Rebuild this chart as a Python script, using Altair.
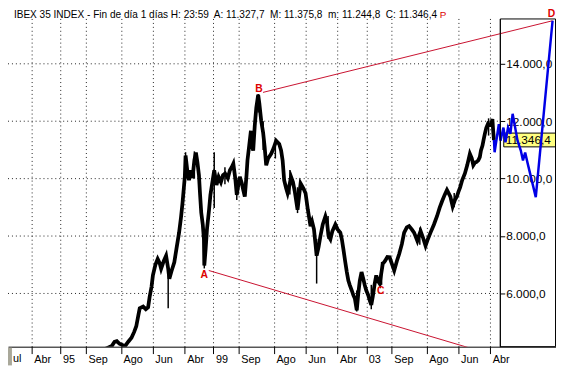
import altair as alt
import pandas as pd

# ---------------- data ----------------
# black IBEX 35 daily trace, decimal year / index value
black_years = [
    1996.125, 1996.34, 1996.41, 1996.47, 1996.54, 1996.685, 1996.77, 1996.855, 1996.925, 1996.98,
    1997.03, 1997.07, 1997.16, 1997.23, 1997.29, 1997.33, 1997.38, 1997.415, 1997.48, 1997.54,
    1997.59, 1997.63, 1997.70, 1997.76, 1997.815, 1997.846, 1997.905, 1997.975, 1998.03, 1998.10,
    1998.15, 1998.19, 1998.22, 1998.25, 1998.27, 1998.32, 1998.36, 1998.41, 1998.45, 1998.50,
    1998.54, 1998.58, 1998.62, 1998.65, 1998.68, 1998.72, 1998.75, 1998.76, 1998.795, 1998.83,
    1998.885, 1998.92, 1998.96, 1999.02, 1999.08, 1999.135, 1999.195, 1999.25, 1999.305, 1999.375,
    1999.43, 1999.48, 1999.52, 1999.57, 1999.61, 1999.65, 1999.69, 1999.74, 1999.78, 1999.82,
    1999.865, 1999.89, 1999.935, 1999.98, 2000.01, 2000.04, 2000.08, 2000.12, 2000.17, 2000.20,
    2000.25, 2000.30, 2000.34, 2000.38, 2000.43, 2000.51, 2000.57, 2000.64, 2000.72, 2000.77,
    2000.81, 2000.85, 2000.90, 2000.94, 2000.99, 2001.03, 2001.08, 2001.13, 2001.20, 2001.245,
    2001.28, 2001.35, 2001.41, 2001.47, 2001.54, 2001.58, 2001.63, 2001.67, 2001.70, 2001.75,
    2001.80, 2001.86, 2001.93, 2001.97, 2002.01, 2002.06, 2002.11, 2002.19, 2002.25, 2002.32,
    2002.36, 2002.40, 2002.445, 2002.49, 2002.53, 2002.57, 2002.62, 2002.66, 2002.70, 2002.75,
    2002.79, 2002.83, 2002.875, 2002.92, 2002.96, 2003.00, 2003.05, 2003.09, 2003.13, 2003.17,
    2003.22, 2003.26, 2003.30, 2003.35, 2003.39, 2003.43, 2003.49, 2003.55, 2003.61, 2003.67,
    2003.73, 2003.80, 2003.86, 2003.93, 2003.99, 2004.06, 2004.12, 2004.19, 2004.25, 2004.335,
    2004.38, 2004.42, 2004.48, 2004.55, 2004.61, 2004.68, 2004.77, 2004.85, 2004.92, 2004.98,
    2005.05, 2005.11, 2005.15, 2005.20, 2005.26, 2005.32, 2005.37, 2005.41, 2005.455, 2005.51,
    2005.58, 2005.64, 2005.71, 2005.76, 2005.80, 2005.85, 2005.88, 2005.93, 2005.97, 2006.00,
    2006.04, 2006.07, 2006.10, 2006.14, 2006.185, 2006.23, 2006.27, 2006.30, 2006.32, 2006.34,
]
black_values = [
    4043, 4170, 4318, 4342, 4249, 4163, 4318, 4455, 4661, 4857,
    5210, 5485, 5543, 5451, 5519, 5887, 6241, 6628, 6996, 7202,
    7065, 6859, 7133, 7315, 6859, 6515, 6790, 7089, 7545, 8119,
    8644, 9149, 9605, 10062, 10807, 10223, 9949, 10292, 10017, 10635,
    10910, 10567, 10120, 9434, 8816, 8404, 7889, 6972, 7545, 8232,
    8919, 9434, 9777, 10292, 9777, 10062, 9880, 10120, 10179, 10017,
    10292, 10405, 10522, 10017, 9434, 9777, 10062, 9846, 9605, 9375,
    10120, 10635, 11150, 11665, 11150, 10979, 11837, 12465, 12925, 12627,
    12009, 11597, 11092, 10464, 10704, 10865, 11047, 11322, 11209, 10979,
    10635, 9949, 9674, 9492, 9777, 10062, 9880, 9537, 8919, 9434,
    9835, 9674, 9492, 8919, 8345, 8507, 8232, 7717, 7315, 7614,
    8002, 8404, 8689, 8507, 8002, 7889, 8163, 8404, 8232, 8119,
    7889, 7545, 7133, 6745, 6447, 6285, 6103, 5942, 5829, 5416,
    6000, 6447, 6745, 6515, 6285, 6103, 5942, 5760, 5598, 5897,
    6344, 6628, 6447, 6344, 6687, 7030, 7133, 7271, 7260, 7030,
    6800, 7133, 7374, 7717, 8119, 8301, 8345, 8232, 8119, 7830,
    8026, 8174, 7957, 7659, 7889, 8119, 8404, 8689, 8987, 9204,
    9434, 9605, 9502, 9375, 9032, 9262, 9375, 9537, 9695, 9949,
    10179, 10464, 10865, 10704, 10464, 10567, 10577, 10635, 10749, 10979,
    11150, 11356, 11552, 11768, 11916, 11871, 11895, 12077, 11665, 11346,
]

# daily high/low spikes
spike_years = [1997.815, 1998.27, 1998.50, 1998.76, 1999.02, 1999.30, 1999.61, 2000.17, 2000.30,
               2000.62, 2001.00, 2001.20, 2001.70, 2002.00, 2002.75, 2003.13, 2003.40, 2004.40,
               2005.30, 2006.20]
spike_low = [5485, 10000, 10000, 6872, 8980, 9800, 9260, 12300, 11000, 10700, 9450, 8800, 6345,
             7900, 5370, 5450, 6300, 7700, 9000, 11500]
spike_high = [6900, 10920, 10950, 8200, 10920, 10400, 9900, 12950, 12000, 11400, 10300, 9700, 7900,
              8700, 6100, 6300, 7100, 8300, 9500, 12100]

# blue projection
blue_years = [2006.357, 2006.468, 2006.512, 2006.589, 2006.641, 2006.708, 2006.77, 2006.829,
              2006.958, 2007.043, 2007.10, 2007.157, 2007.216, 2007.435, 2007.874]
blue_values = [10920, 11895, 11322, 11779, 11264, 11779, 11562, 12259,
               11322, 10979, 10635, 10910, 10567, 9355, 15500]

# red trend lines  (A -> beyond bottom, B -> D)
red_line = ["AC", "AC", "BD", "BD"]
red_years = [1998.877, 2007.874, 2000.296, 2007.874]
red_values = [6800, 3243, 13004, 15500]

# point labels
pt_labels = ["A", "B", "C", "D"]
pt_years = [1998.757, 2000.188, 2003.38, 2007.848]
pt_values = [6652, 13107, 6069, 15734]

# axis ticks
x_tick_dates = ["1994-04-01", "1995-01-01", "1995-09-01", "1996-08-01", "1997-06-01", "1998-04-01",
                "1999-01-01", "1999-09-01", "2000-08-01", "2001-06-01", "2002-04-01", "2003-01-01",
                "2003-09-01", "2004-08-01", "2005-06-01", "2006-04-01"]
x_tick_labels = ["Abr", "95", "Sep", "Ago", "Jun", "Abr", "99", "Sep", "Ago", "Jun", "Abr", "03",
                 "Sep", "Ago", "Jun", "Abr"]
y_ticks = [6000, 8000, 10000, 12000, 14000]

last_close = 11346.4
header = ("IBEX 35 INDEX - Fin de día 1 días H: 23:59\u00a0 A: 11.327,7\u00a0 M: 11.375,8"
          "\u00a0 m: 11.244,8\u00a0 C: 11.346,4")

# ---------------- helpers ----------------
MS_YEAR = 365.2425 * 86400000.0


def yr_ms(y):
    return (y - 1970.0) * MS_YEAR


W, H = 556, 333
FONT = "Liberation Sans"
xs = alt.Scale(type="utc", domain=[yr_ms(1993.623), yr_ms(2007.964)], nice=False)
ys = alt.Scale(domain=[4146, 15579], nice=False, zero=False)

tick_ms = [int(pd.Timestamp(d).value // 10**6) for d in x_tick_dates]
label_expr = f"{x_tick_labels}[indexof({tick_ms}, toNumber(datum.value))]"
es_fmt = "replace(replace(replace(format(datum.value, ',.1f'), ',', 'T'), '.', ','), 'T', '.')"

x_axis = alt.Axis(values=tick_ms, labelExpr=label_expr, grid=True, gridDash=[1, 3], gridColor="#222",
                  gridWidth=1, tickSize=7, tickColor="#000", domainColor="#000", labelAlign="left",
                  labelBaseline="top", labelPadding=0, labelOffset=2, labelFont=FONT, labelFontSize=11,
                  labelColor="#000", labelFlush=False, labelOverlap=False, title=None)
y_axis = alt.Axis(orient="right", offset=-57, values=y_ticks, grid=False, tickSize=5, labelPadding=1,
                  labelExpr=es_fmt, labelFont=FONT, labelFontSize=12, labelColor="#000",
                  domainColor="#000", tickColor="#000", title=None)


def X(field):
    return alt.X(field, type="temporal", scale=xs, axis=x_axis)


def Y(field):
    return alt.Y(field, type="quantitative", scale=ys, axis=y_axis)


black_df = pd.DataFrame({"t": [yr_ms(v) for v in black_years], "v": black_values})
spike_df = pd.DataFrame({"t": [yr_ms(v) for v in spike_years], "lo": spike_low, "hi": spike_high})
blue_df = pd.DataFrame({"t": [yr_ms(v) for v in [2006.34] + blue_years], "v": [last_close] + blue_values})
red_df = pd.DataFrame({"line": red_line, "t": [yr_ms(v) for v in red_years], "v": red_values})
lab_df = pd.DataFrame({"lab": pt_labels, "t": [yr_ms(v) for v in pt_years], "v": pt_values})
grid_df = pd.DataFrame({"v": y_ticks})
box_df = pd.DataFrame({"lo": [last_close - 240], "hi": [last_close + 240], "v": [last_close],
                       "txt": ["11.346,4"]})
one = pd.DataFrame({"a": [0]})

hgrid = alt.Chart(grid_df).mark_rule(strokeDash=[1, 3], color="#222").encode(
    y=Y("v"), x=alt.value(0), x2=alt.value(499))

vgrid = alt.Chart(pd.DataFrame({"t": tick_ms})).mark_rule(opacity=0).encode(x=X("t"))

red = alt.Chart(red_df).mark_line(color="#c8102e", strokeWidth=1, clip=True).encode(
    x=X("t"), y=Y("v"), detail="line:N")

black = alt.Chart(black_df).mark_line(color="#000", strokeWidth=3.8, clip=True).encode(
    x=X("t"), y=Y("v"))

spikes = alt.Chart(spike_df).mark_rule(color="#000", strokeWidth=1.5).encode(
    x=X("t"), y=Y("lo"), y2="hi:Q")

ybox = alt.Chart(box_df).mark_rect(fill="#ffff80", stroke="#000", strokeWidth=1).encode(
    x=alt.value(503), x2=alt.value(556), y=Y("lo"), y2="hi:Q")
ytxt = alt.Chart(box_df).mark_text(align="left", baseline="middle", font=FONT, fontSize=12,
                                   color="#000").encode(
    x=alt.value(505), y=Y("v"), text="txt:N")

blue = alt.Chart(blue_df).mark_line(color="#0000e6", strokeWidth=2.5).encode(x=X("t"), y=Y("v"))

labels = alt.Chart(lab_df).mark_text(color="#dd0000", fontWeight="bold", font=FONT, fontSize=10.5).encode(
    x=X("t"), y=Y("v"), text="lab:N")

frame = alt.Chart(one).mark_rect(filled=False, stroke="#000", strokeWidth=1).encode(
    x=alt.value(499.5), x2=alt.value(555.5), y=alt.value(0.5), y2=alt.value(H))

head = alt.Chart(pd.DataFrame({"txt": [header]})).mark_text(
    align="left", baseline="alphabetic", font=FONT, fontSize=10.2, color="#000").encode(
    x=alt.value(6), y=alt.value(0), text="txt:N")
head_p = alt.Chart(pd.DataFrame({"txt": ["P"]})).mark_text(
    align="left", baseline="alphabetic", font=FONT, fontSize=10, color="#dd0000").encode(
    x=alt.value(438), y=alt.value(0), text="txt:N")

ul = alt.Chart(pd.DataFrame({"txt": ["ul"]})).mark_text(
    align="left", baseline="top", font=FONT, fontSize=11, color="#000").encode(
    x=alt.value(5), y=alt.value(H + 7), text="txt:N")
icon = alt.Chart(one).mark_rect(fill="#a9a89a").encode(
    x=alt.value(0), x2=alt.value(4), y=alt.value(H + 1), y2=alt.value(H + 19))

chart = alt.layer(hgrid, vgrid, red, black, spikes, ybox, ytxt, blue, labels, frame, head, head_p,
                  ul, icon).properties(
    width=W, height=H, autosize=alt.AutoSizeParams(type="none"),
    padding={"left": 0, "top": 8, "right": 0, "bottom": 19},
    background="#ffffff",
).configure_view(strokeWidth=0)

chart.save("out.html", embed_options={"renderer": "svg", "actions": False})
